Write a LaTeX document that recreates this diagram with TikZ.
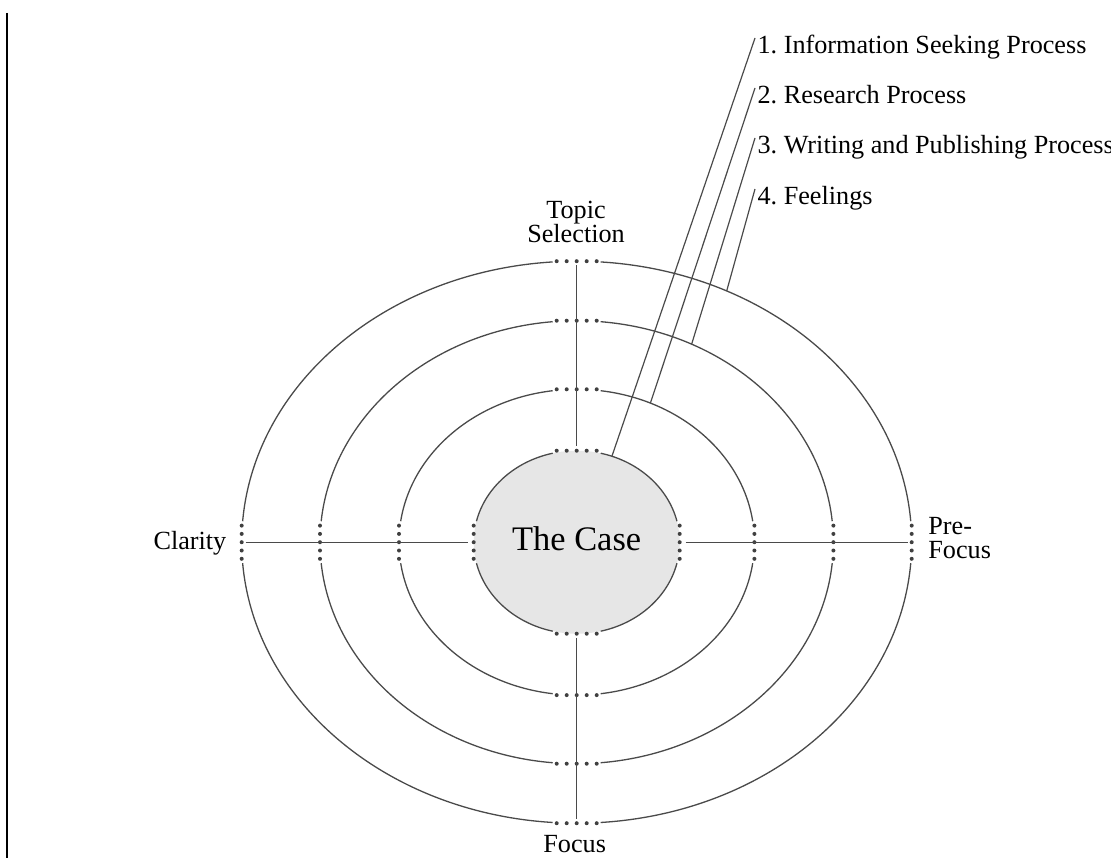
\documentclass[tikz,border=0pt]{standalone}
\usepackage{fontspec}
\setmainfont{Liberation Serif}
\frenchspacing
\definecolor{ringgray}{HTML}{4A4A4A}
\definecolor{dotgray}{HTML}{404040}
\definecolor{casefill}{HTML}{E6E6E6}
\newcommand\lblfont{\fontsize{13.1}{12}\selectfont\lineskiplimit=-100pt\relax}
\begin{document}
\begin{tikzpicture}[x=0.5pt,y=0.5pt,
  ring/.style={draw=ringgray,line width=0.65pt},
  axis/.style={draw=ringgray,line width=0.65pt},
  leader/.style={draw=ringgray,line width=0.6pt},
  dotmark/.style={fill=dotgray,draw=none},
  lbl/.style={font=\lblfont,inner sep=0pt,text=black},
  caselbl/.style={font=\fontsize{17.2}{20}\selectfont,inner sep=0pt,text=black}]
\useasboundingbox (-576.7,-315.8) rectangle (534.3,542.2);

% left rule
\coordinate (rtop) at (-569.2,529.2);
\coordinate (rbot) at (-569.2,-315.8);
\draw[black,line width=1pt] (rtop) -- (rbot);

% inner filled ellipse (the case)
\fill[casefill] (0,0) ellipse[x radius=103,y radius=91.5];

% rings with gaps at the dot rows
\foreach \rx/\ry in {335/281,256.7/221.5,177.7/152.9,103/91.5}{
  \pgfmathsetmacro\ta{acos(24/\rx)}
  \pgfmathsetmacro\tb{asin(21/\ry)}
  \foreach \s/\e in {\tb/\ta,180-\ta/180-\tb,180+\tb/180+\ta,360-\ta/360-\tb}{
    \pgfmathsetmacro\ss{\s}
    \pgfmathsetmacro\ee{\e}
    \draw[ring] ({\rx*cos(\ss)},{\ry*sin(\ss)}) arc[start angle=\ss,end angle=\ee,x radius=\rx,y radius=\ry];
  }
  \foreach \d in {-20,-10,0,10,20}{
    \fill[dotmark] (\d,\ry) circle[radius=2];
    \fill[dotmark] (\d,-\ry) circle[radius=2];
  }
  \foreach \d in {-16.6,-8.3,0,8.3,16.6}{
    \fill[dotmark] (-\rx,\d) circle[radius=2];
    \fill[dotmark] (\rx,\d) circle[radius=2];
  }
}

% axes
\coordinate (otop) at (0,277);
\coordinate (itop) at (0,96);
\coordinate (ibot) at (0,-96);
\coordinate (obot) at (0,-277);
\coordinate (oleft) at (-331,0);
\coordinate (ileft) at (-109,0);
\coordinate (iright) at (109,0);
\coordinate (oright) at (331,0);
\draw[axis] (otop) -- (itop);
\draw[axis] (ibot) -- (obot);
\draw[axis] (oleft) -- (ileft);
\draw[axis] (iright) -- (oright);

% centre label
\node[caselbl,anchor=base] (case) at (0,-8) {The Case};

% phase labels
\node[lbl,align=center,anchor=south] (topic) at (-0.7,299.5) {Topic\\Selection};
\node[lbl,anchor=base] (focus) at (-2,-309.8) {Focus};
\node[lbl,anchor=base east] (clarity) at (-350,-7) {Clarity};
\node[lbl,align=left,anchor=south west] (prefocus) at (351.3,-17) {Pre-\\Focus};

% legend labels
\node[lbl,anchor=base west] (l1) at (180.5,489.2) {1. Information Seeking Process};
\node[lbl,anchor=base west] (l2) at (180.5,439.2) {2. Research Process};
\node[lbl,anchor=base west] (l3) at (180.5,389.2) {3. Writing and Publishing Process};
\node[lbl,anchor=base west] (l4) at (180.5,338.2) {4. Feelings};

% leader lines
\coordinate (t1) at (178.3,504.2);
\coordinate (t2) at (178.3,454.2);
\coordinate (t3) at (178.3,404.2);
\coordinate (t4) at (178.3,353.2);
\coordinate (e1) at ({103*cos(70)},{91.5*sin(70)});
\coordinate (e2) at ({177.7*cos(65.5)},{152.9*sin(65.5)});
\coordinate (e3) at ({256.7*cos(63.4)},{221.5*sin(63.4)});
\coordinate (e4) at ({335*cos(63.4)},{281*sin(63.4)});
\draw[leader] (t1) -- (e1);
\draw[leader] (t2) -- (e2);
\draw[leader] (t3) -- (e3);
\draw[leader] (t4) -- (e4);
\end{tikzpicture}
\end{document}
